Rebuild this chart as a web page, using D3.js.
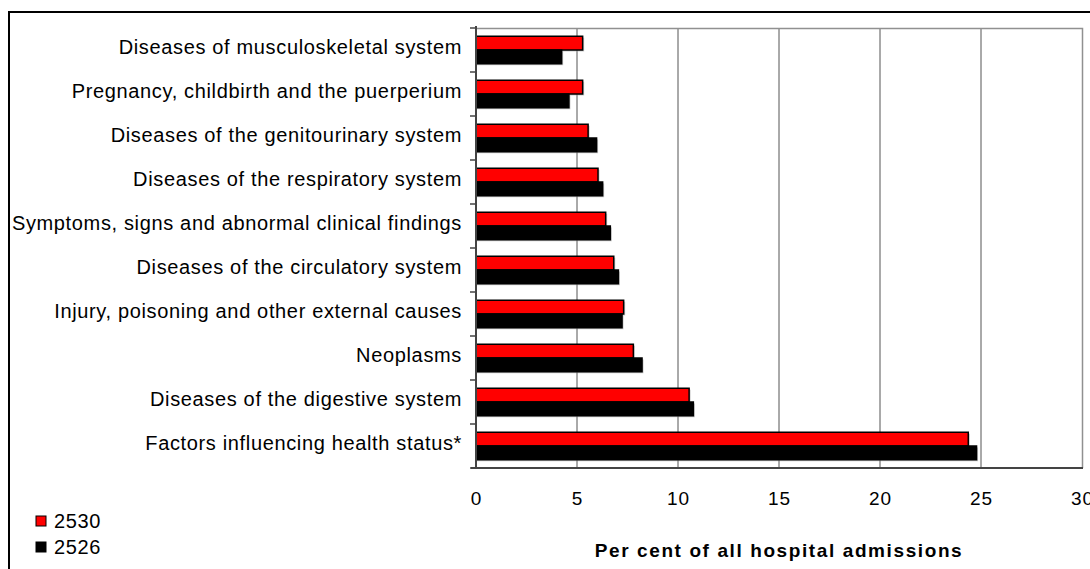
<!DOCTYPE html>
<html><head><meta charset="utf-8">
<script src="https://cdn.jsdelivr.net/npm/d3@7"></script>
<style>body{margin:0;background:#fff}svg{display:block}text{font-family:"Liberation Sans",Arial,sans-serif}</style>
</head><body><svg id="c" width="1090" height="569"></svg>
<script>
const categories = ["Diseases of musculoskeletal system","Pregnancy, childbirth and the puerperium","Diseases of the genitourinary system","Diseases of the respiratory system","Symptoms, signs and abnormal clinical findings","Diseases of the circulatory system","Injury, poisoning and other external causes","Neoplasms","Diseases of the digestive system","Factors influencing health status*"];
const series = ["2530","2526"];
const values2530 = [5.28,5.28,5.55,6.04,6.42,6.82,7.31,7.79,10.55,24.37];
const values2526 = [4.24,4.6,5.97,6.27,6.65,7.05,7.23,8.22,10.76,24.78];
const xTicks = [0,5,10,15,20,25,30];
const colors = ["#ff0000","#000000"];

const svg = d3.select("#c");
const L=476, R=1082, T=28, B=468;
svg.append("rect").attr("x",9).attr("y",12).attr("width",1200).attr("height",700).attr("fill","none").attr("stroke","#000").attr("stroke-width",2);

const x = d3.scaleLinear().domain([0,30]).range([L,R]);
const y = d3.scaleBand().domain(categories).range([T,B]);
const grp = y.bandwidth()/1.6, off=(y.bandwidth()-grp)/2;
const ib = d3.scaleBand().domain(series).range([off,off+grp]);

svg.append("g").selectAll("line").data(xTicks.slice(1,-1)).join("line")
 .attr("x1",d=>x(d)).attr("x2",d=>x(d)).attr("y1",T).attr("y2",B).attr("stroke","#555").attr("stroke-width",1);
svg.append("path").attr("d",`M${L},${T+0.5}H${R+0.5}V${B}`).attr("fill","none").attr("stroke","#909090").attr("stroke-width",1.5);

const data = categories.map((c,i)=>({c, v:[values2530[i],values2526[i]]}));
const g = svg.append("g");
data.forEach(d=>{
  series.forEach((s,j)=>{
    const yy = y(d.c)+ib(s);
    g.append("rect").attr("x",x(0)).attr("y",yy+1.5).attr("width",x(d.v[j])-x(0)+1.5).attr("height",ib.bandwidth()).attr("fill","#999").attr("opacity",0.5);
    g.append("rect").attr("x",x(0)).attr("y",yy).attr("width",x(d.v[j])-x(0)).attr("height",ib.bandwidth())
     .attr("fill",colors[j]).attr("stroke","#000").attr("stroke-width",1.5);
  });
});

const xa = svg.append("g").attr("transform",`translate(0,${B})`).call(d3.axisBottom(x).tickValues(xTicks).tickSize(0).tickPadding(24));
xa.select(".domain").attr("stroke","#444").attr("stroke-width",2).attr("d",`M${L-5},0H${R+1}`);
xa.selectAll("text").attr("font-size",19).attr("fill","#000").style("font-family","Liberation Sans, Arial, sans-serif").style("letter-spacing","1px");

const ya = svg.append("g").attr("transform",`translate(${L},0)`);
ya.append("line").attr("x1",0).attr("x2",0).attr("y1",T-2).attr("y2",B).attr("stroke","#444").attr("stroke-width",2);
const bounds = d3.range(categories.length+1).map(i=>T+i*y.step());
ya.selectAll("line.t").data(bounds).join("line").attr("class","t").attr("x1",-6).attr("x2",0).attr("y1",d=>d).attr("y2",d=>d).attr("stroke","#444").attr("stroke-width",1.5);
ya.selectAll("text").data(categories).join("text").attr("x",-14).attr("y",d=>y(d)+y.bandwidth()/2-3).attr("dy","0.35em")
 .attr("text-anchor","end").attr("font-size",20).style("letter-spacing","0.65px").text(d=>d);

svg.append("text").attr("x",(L+R)/2).attr("y",557).attr("text-anchor","middle").attr("font-size",19).attr("font-weight","bold").style("letter-spacing","1.6px").text("Per cent of all hospital admissions");

const lg = svg.append("g");
series.forEach((s,j)=>{
  const yy = 521 + j*26;
  lg.append("rect").attr("x",36).attr("y",yy-5).attr("width",10).attr("height",10).attr("fill",colors[j]).attr("stroke","#000").attr("stroke-width",1);
  lg.append("text").attr("x",54).attr("y",yy).attr("dy","0.35em").attr("font-size",20).style("letter-spacing","0.6px").text(s);
});
</script></body></html>
